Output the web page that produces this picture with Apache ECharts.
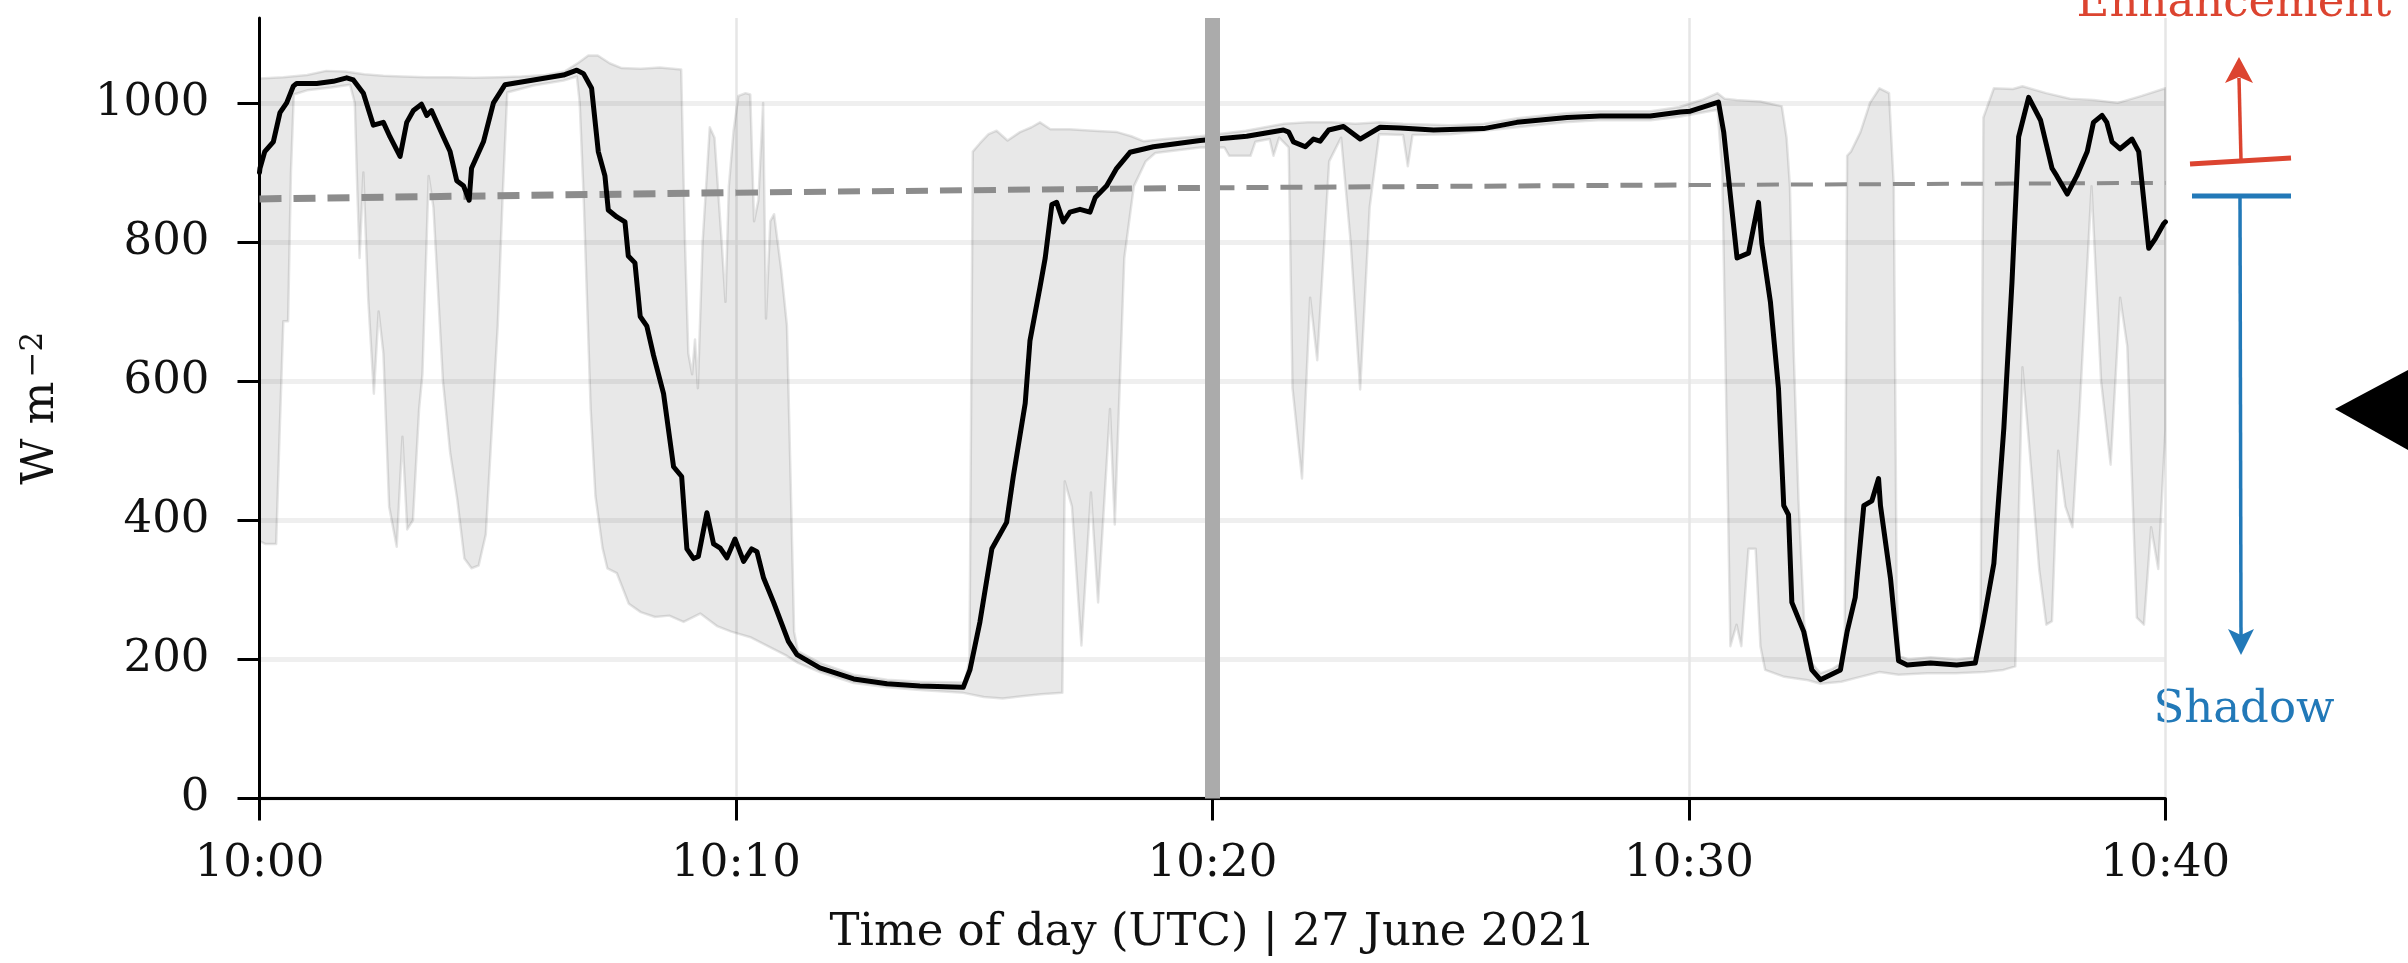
<!DOCTYPE html>
<html>
<head>
<meta charset="utf-8">
<script src="https://cdn.jsdelivr.net/npm/echarts@6/dist/echarts.min.js"></script>
<style>
html,body{margin:0;padding:0;background:#fff;}
#chart{width:2408px;height:963px;}
</style>
</head>
<body>
<div id="chart"></div>
<script>
// ---- data (time in minutes after 10:00 UTC, irradiance in W m^-2) ----
const xTicks = [0, 10, 20, 30, 40];
const xTickLabels = ['10:00', '10:10', '10:20', '10:30', '10:40'];
const yTicks = [0, 200, 400, 600, 800, 1000];
const xAxisTitle = 'Time of day (UTC) | 27 June 2021';

// highlighted sensor (black line)
const measured = [
[0.0,900],[0.01,906],[0.11,930],[0.29,944],[0.43,986],[0.57,1000],[0.71,1024],[0.78,1028],[1.2,1028],[1.55,1031],
[1.83,1036],[1.97,1033],[2.18,1014],[2.39,968],[2.6,972],[2.74,951],[2.95,923],[3.09,972],[3.23,989],[3.4,998],
[3.51,982],[3.61,989],[3.86,951],[4.0,930],[4.14,888],[4.28,881],[4.4,860],[4.45,906],[4.7,944],[4.91,1000],
[5.15,1026],[5.75,1033],[6.38,1040],[6.66,1047],[6.8,1042],[6.97,1021],[7.11,930],[7.25,895],[7.32,846],[7.5,836],
[7.67,829],[7.74,780],[7.88,770],[7.99,693],[8.13,679],[8.27,637],[8.48,582],[8.69,477],[8.86,463],[8.97,359],
[9.11,345],[9.21,348],[9.39,411],[9.53,366],[9.67,360],[9.81,346],[9.98,373],[10.16,341],[10.33,359],[10.44,355],
[10.58,317],[10.79,282],[11.1,226],[11.28,207],[11.76,188],[12.47,172],[13.17,165],[13.86,162],[14.77,160],[14.91,185],
[15.12,254],[15.37,359],[15.68,397],[15.82,463],[16.07,568],[16.17,658],[16.38,735],[16.49,777],[16.63,854],[16.73,857],
[16.87,829],[17.01,843],[17.22,847],[17.43,843],[17.54,864],[17.78,881],[17.99,906],[18.27,929],[18.76,937],[19.74,946],
[20.72,952],[21.49,961],[21.6,958],[21.7,944],[21.95,937],[22.12,948],[22.26,945],[22.44,961],[22.75,966],[23.1,948],
[23.52,965],[23.94,964],[24.64,961],[25.69,963],[26.39,972],[27.44,979],[28.14,981],[29.19,981],[29.82,987],[30.03,988],
[30.62,1001],[30.73,958],[30.87,867],[31.01,777],[31.25,784],[31.46,857],[31.53,798],[31.71,714],[31.88,589],[31.99,421],
[32.09,408],[32.16,282],[32.41,240],[32.58,185],[32.76,171],[33.18,185],[33.32,240],[33.49,289],[33.67,421],[33.84,428],
[33.98,460],[34.02,421],[34.23,317],[34.4,198],[34.58,192],[35.07,195],[35.62,192],[36.01,195],[36.18,254],[36.4,338],
[36.61,533],[36.78,742],[36.92,951],[37.13,1008],[37.38,975],[37.62,906],[37.72,895],[37.94,869],[38.14,895],[38.36,930],
[38.49,972],[38.67,982],[38.77,972],[38.88,944],[39.05,934],[39.3,948],[39.44,930],[39.65,791],[39.79,805],[39.96,826],
[40.0,829]
];

// envelope of all sensors: maximum
const bandHi = [
[0,1035],[0.5,1037],[1.0,1040],[1.4,1046],[1.8,1045],[2.2,1041],[2.6,1039],[3.0,1038],[3.5,1037],[4.0,1037],
[4.5,1036],[5.0,1037],[5.5,1038],[6.0,1040],[6.4,1045],[6.7,1058],[6.9,1068],[7.1,1068],[7.35,1057],[7.6,1050],
[8.0,1049],[8.4,1051],[8.85,1048],[8.93,800],[9.0,640],[9.08,610],[9.14,660],[9.2,590],[9.3,800],[9.45,965],
[9.55,950],[9.7,800],[9.78,714],[9.85,880],[9.95,960],[10.05,1010],[10.2,1014],[10.3,1012],[10.38,830],[10.47,860],
[10.57,1000],[10.63,690],[10.72,830],[10.8,840],[10.95,760],[11.07,680],[11.15,450],[11.22,240],[11.3,212],[11.76,195],
[12.47,178],[13.17,171],[13.86,168],[14.8,167],[14.9,200],[14.97,930],[15.12,942],[15.3,955],[15.47,960],[15.7,946],
[15.96,958],[16.2,965],[16.38,972],[16.6,962],[17.0,962],[17.5,960],[18.0,958],[18.3,952],[18.55,945],[19.0,948],
[19.74,952],[20.7,960],[21.5,970],[22.0,972],[22.5,972],[23.0,970],[23.5,972],[24.0,970],[25.0,968],[25.7,970],
[26.4,978],[27.4,985],[28.1,988],[29.2,988],[29.8,994],[30.3,1005],[30.6,1014],[30.75,1006],[31.0,1004],[31.5,1002],
[31.95,995],[32.05,950],[32.12,880],[32.2,640],[32.3,430],[32.42,252],[32.58,195],[32.76,180],[33.0,186],[33.18,194],
[33.27,240],[33.32,924],[33.4,930],[33.6,958],[33.8,1000],[34.0,1021],[34.2,1014],[34.3,880],[34.36,300],[34.42,205],
[34.6,200],[35.07,203],[35.62,200],[36.01,203],[36.12,240],[36.18,979],[36.4,1021],[36.8,1020],[37.0,1024],[37.5,1014],
[38.0,1006],[38.5,1004],[39.0,1000],[39.5,1010],[40.0,1021]
];

// envelope of all sensors: minimum
const bandLo = [
[0,370],[0.12,366],[0.35,366],[0.42,520],[0.5,686],[0.6,686],[0.66,900],[0.72,1012],[1.0,1018],[1.5,1022],
[1.9,1026],[2.0,1000],[2.05,880],[2.1,777],[2.18,900],[2.28,720],[2.4,582],[2.5,700],[2.6,640],[2.72,420],
[2.88,362],[3.0,520],[3.1,387],[3.22,400],[3.35,560],[3.42,610],[3.55,895],[3.65,850],[3.85,600],[4.0,498],
[4.15,430],[4.3,345],[4.45,331],[4.6,335],[4.75,380],[4.9,560],[5.0,680],[5.1,860],[5.2,1015],[5.75,1025],
[6.38,1032],[6.66,1038],[6.72,1000],[6.8,870],[6.95,560],[7.05,435],[7.2,360],[7.3,331],[7.5,324],[7.75,280],
[8.0,268],[8.3,261],[8.6,263],[8.9,254],[9.25,266],[9.6,248],[9.9,240],[10.3,232],[10.7,218],[11.07,205],
[11.3,195],[11.76,182],[12.47,166],[13.17,160],[13.86,156],[14.77,152],[15.2,146],[15.6,144],[16.0,147],[16.4,150],
[16.85,152],[16.9,456],[17.05,420],[17.25,220],[17.45,440],[17.6,282],[17.85,560],[17.95,394],[18.15,777],[18.35,880],
[18.6,916],[18.8,928],[19.74,936],[20.25,936],[20.35,924],[20.8,924],[20.9,944],[21.2,948],[21.28,924],[21.4,950],
[21.6,936],[21.68,590],[21.88,460],[22.05,720],[22.2,630],[22.45,916],[22.7,950],[22.9,800],[23.1,588],[23.3,850],
[23.5,955],[24.0,954],[24.1,909],[24.2,954],[25.0,955],[26.0,962],[27.4,972],[28.1,975],[29.2,975],[29.8,980],
[30.6,990],[30.7,900],[30.8,500],[30.87,219],[31.0,250],[31.1,219],[31.25,359],[31.4,359],[31.5,219],[31.6,185],
[32.0,175],[32.5,170],[32.76,165],[33.2,168],[33.6,175],[34.0,182],[34.4,178],[35.0,180],[35.6,180],[36.2,182],
[36.6,185],[36.85,190],[36.92,400],[37.0,620],[37.15,500],[37.35,330],[37.5,250],[37.62,255],[37.75,500],[37.9,420],
[38.05,390],[38.2,560],[38.45,880],[38.65,600],[38.85,480],[39.05,720],[39.2,650],[39.4,260],[39.55,250],[39.7,390],
[39.85,330],[40.0,530]
];

// clear-sky reference (dashed)
const clearSkyRef = [[0,862],[10,871],[20,878],[30,882],[40,885]];
// highlighted instant (10:20)
const markerTime = 20;

// ---- styles ----
const FONT = 'DejaVu Serif';
const refWidths = [7, 6, 5, 4];
const RED = '#dc4430';
const BLUE = '#2279b8';

const chart = echarts.init(document.getElementById('chart'), null, {renderer: 'canvas'});

const option = {
  animation: false,
  backgroundColor: '#ffffff',
  grid: {left: 259.5, right: 242.6, top: 18, bottom: 164.4, containLabel: false},
  xAxis: {
    type: 'value', min: 0, max: 40, interval: 10,
    name: xAxisTitle, nameLocation: 'middle', nameGap: 112,
    nameTextStyle: {fontFamily: FONT, fontSize: 45, color: '#111'},
    axisLine: {show: true, onZero: false, lineStyle: {color: '#000', width: 3}},
    axisTick: {show: true, length: 22, lineStyle: {color: '#000', width: 3}},
    axisLabel: {
      margin: 43, fontFamily: FONT, fontSize: 45, color: '#111',
      formatter: v => { const i = xTicks.indexOf(v); return i >= 0 ? xTickLabels[i] : ''; }
    },
    splitLine: {show: true, lineStyle: {color: '#e6e6e6', width: 2.5}}
  },
  yAxis: {
    type: 'value', min: 0, max: 1122, interval: 200,
    name: '{a|W m}{b|−2}', nameLocation: 'middle', nameGap: 196, nameRotate: 90,
    nameTextStyle: {
      color: '#111',
      rich: {
        a: {fontFamily: FONT, fontSize: 45, color: '#111', verticalAlign: 'bottom'},
        b: {fontFamily: FONT, fontSize: 31, color: '#111', verticalAlign: 'top', padding: [0, 0, 14, 4]}
      }
    },
    axisLine: {show: true, lineStyle: {color: '#000', width: 3}},
    axisTick: {show: true, length: 22, customValues: yTicks, lineStyle: {color: '#000', width: 3}},
    axisLabel: {
      margin: 50, fontFamily: FONT, fontSize: 45, color: '#111', customValues: yTicks,
      formatter: v => (yTicks.indexOf(v) >= 0 ? String(v) : '')
    },
    splitLine: {show: true, lineStyle: {color: ['#efefef','#efefef','#efefef','#efefef','#efefef','#efefef','rgba(0,0,0,0)'], width: 5}}
  },
  series: [
    {
      name: 'band', type: 'custom', z: 1, clip: true, silent: true,
      data: [[0, 0]],
      renderItem: (params, api) => {
        const top = bandHi.map(p => api.coord(p));
        const bot = bandLo.slice().reverse().map(p => api.coord(p));
        return {
          type: 'polygon',
          shape: {points: top.concat(bot)},
          style: {fill: 'rgba(0,0,0,0.09)', stroke: 'rgba(0,0,0,0.10)', lineWidth: 2.5, lineJoin: 'round'}
        };
      }
    },
    {
      name: 'marker', type: 'line', z: 2, data: [], silent: true,
      markLine: {
        silent: true, symbol: 'none', animation: false,
        label: {show: false},
        lineStyle: {color: '#ababab', width: 15, type: 'solid', opacity: 1},
        data: [{xAxis: markerTime}]
      }
    },
    {
      name: 'clearSky', type: 'custom', z: 3, clip: true, silent: true,
      data: clearSkyRef.slice(0, -1).map((p, i) => [i]),
      renderItem: (params, api) => {
        const i = params.dataIndex;
        const a = api.coord(clearSkyRef[i]);
        const b = api.coord(clearSkyRef[i + 1]);
        return {
          type: 'line',
          shape: {x1: a[0], y1: a[1], x2: b[0], y2: b[1]},
          style: {stroke: '#8c8c8c', lineWidth: refWidths[i], lineDash: [22, 12]}
        };
      },
      encode: {x: -1, y: -1}
    },
    {
      name: 'measured', type: 'line', z: 4, data: measured, showSymbol: false, symbol: 'none',
      lineStyle: {color: '#000', width: 5, join: 'round', cap: 'round'}, silent: true
    }
  ],
  graphic: [
    {type: 'text', x: 2234, y: 27, style: {text: 'Enhancement', fill: RED, font: '45px "DejaVu Serif"', align: 'center', verticalAlign: 'bottom'}},
    {type: 'line', shape: {x1: 2241, y1: 160, x2: 2239, y2: 78}, style: {stroke: RED, lineWidth: 3.5}},
    {type: 'polygon', shape: {points: [[2239, 57], [2253, 83], [2239, 77], [2225, 83]]}, style: {fill: RED}},
    {type: 'line', shape: {x1: 2190, y1: 164, x2: 2291, y2: 158}, style: {stroke: RED, lineWidth: 5}},
    {type: 'line', shape: {x1: 2192, y1: 196, x2: 2291, y2: 196}, style: {stroke: BLUE, lineWidth: 5}},
    {type: 'line', shape: {x1: 2240, y1: 196, x2: 2241, y2: 640}, style: {stroke: BLUE, lineWidth: 3.5}},
    {type: 'polygon', shape: {points: [[2241, 655], [2254, 629], [2241, 635], [2228, 629]]}, style: {fill: BLUE}},
    {type: 'text', x: 2244, y: 710, style: {text: 'Shadow', fill: BLUE, font: '45px "DejaVu Serif"', align: 'center', verticalAlign: 'middle'}},
    {type: 'polygon', shape: {points: [[2335, 409], [2408, 370], [2408, 450]]}, style: {fill: '#000'}}
  ]
};

chart.setOption(option);
</script>
</body>
</html>
